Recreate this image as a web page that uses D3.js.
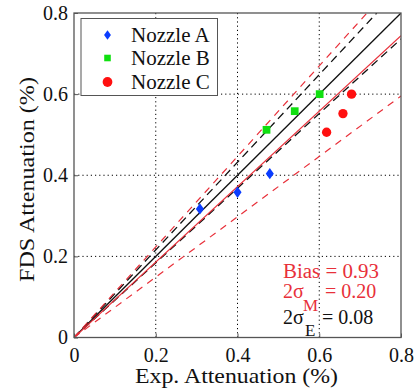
<!DOCTYPE html>
<html><head><meta charset="utf-8">
<script src="https://cdn.jsdelivr.net/npm/d3@7"></script>
<style>body{margin:0;background:#fff}svg{display:block}text{font-family:"Liberation Serif","Times New Roman",serif}</style>
</head><body><svg id="c" width="417" height="389"></svg>
<script>
const seriesNames = ["Nozzle A","Nozzle B","Nozzle C"];
const nozzleA_x = [0.308,0.400,0.479];
const nozzleA_y = [0.317,0.358,0.404];
const nozzleB_x = [0.471,0.540,0.601];
const nozzleB_y = [0.512,0.558,0.600];
const nozzleC_x = [0.618,0.658,0.679];
const nozzleC_y = [0.506,0.552,0.600];
const tickValues = [0,0.2,0.4,0.6,0.8];
const tickLabels = ["0","0.2","0.4","0.6","0.8"];
const bias = 0.93, sigmaM2 = 0.20, sigmaE2 = 0.08;

const svg = d3.select("#c");
const L=74,R=401,T=13,B=337.5;
const x = d3.scaleLinear().domain([0,0.8]).range([L,R]);
const y = d3.scaleLinear().domain([0,0.8]).range([B,T]);

// grid
const g = svg.append("g");
[0.2,0.4,0.6].forEach(v=>{
  g.append("line").attr("x1",x(v)).attr("x2",x(v)).attr("y1",T).attr("y2",B)
   .attr("stroke","#000").attr("stroke-width",1).attr("stroke-dasharray","1.2,3");
  g.append("line").attr("y1",y(v)).attr("y2",y(v)).attr("x1",L).attr("x2",R)
   .attr("stroke","#000").attr("stroke-width",1).attr("stroke-dasharray","1.2,3");
});

svg.append("clipPath").attr("id","clip").append("rect").attr("x",L).attr("y",T).attr("width",R-L).attr("height",B-T);
const lines = svg.append("g").attr("clip-path","url(#clip)");
function refLine(slope,color,dash,w){
  const xe = Math.min(0.8, 0.8/slope);
  lines.append("line").attr("x1",x(0)).attr("y1",y(0)).attr("x2",x(xe)).attr("y2",y(slope*xe))
   .attr("stroke",color).attr("stroke-width",w||1.2).attr("stroke-dasharray",dash||null);
}
refLine(1,"#111",null,1.3);
refLine(1+sigmaE2,"#111","8,5",1.3);
refLine(1-sigmaE2,"#111","8,5",1.3);
refLine(bias,"#e8303a");
refLine(bias*(1+sigmaM2),"#e8303a","7,6");
refLine(bias*(1-sigmaM2),"#e8303a","7,6");

// frame
svg.append("rect").attr("x",L).attr("y",T).attr("width",R-L).attr("height",B-T)
  .attr("fill","none").attr("stroke","#555").attr("stroke-width",1.3);

// axes
const fs = 20;
const xa = svg.append("g").attr("transform",`translate(0,${B})`)
  .call(d3.axisBottom(x).tickValues(tickValues).tickFormat((d,i)=>tickLabels[i]).tickSize(-4).tickPadding(7));
const ya = svg.append("g").attr("transform",`translate(${L},0)`)
  .call(d3.axisLeft(y).tickValues(tickValues).tickFormat((d,i)=>tickLabels[i]).tickSize(-4).tickPadding(6));
[xa,ya].forEach(a=>{a.select(".domain").remove();
  a.selectAll(".tick line").attr("stroke","#555");
  a.selectAll("text").attr("font-size",fs).attr("font-family","Liberation Serif").attr("fill","#111");});
xa.selectAll("text").attr("dy","0.85em");

svg.append("text").attr("x",236.5).attr("y",383).attr("text-anchor","middle")
  .attr("font-size",21).attr("fill","#111")
  .attr("textLength",203).attr("lengthAdjust","spacingAndGlyphs").text("Exp. Attenuation (%)");
svg.append("text").attr("transform",`translate(34,179.5) rotate(-90)`).attr("text-anchor","middle")
  .attr("font-size",21).attr("fill","#111")
  .attr("textLength",205).attr("lengthAdjust","spacingAndGlyphs").text("FDS Attenuation (%)");

// markers
const colors = ["#0a3cff","#10e010","#ff1010"];
const shapes = [d3.symbolDiamond, d3.symbolSquare, d3.symbolCircle];
const sizes = [60, 60, 68];
function diamond(sz){ return `M0,${-sz*0.62}L${sz*0.44},0L0,${sz*0.62}L${-sz*0.44},0Z`; }
function marker(sel,i,cx,cy,scale){
  if(i===0) sel.append("path").attr("d",diamond(9.2*scale)).attr("transform",`translate(${cx},${cy})`).attr("fill",colors[0]);
  else sel.append("path").attr("d",d3.symbol(shapes[i],sizes[i]*scale*scale)()).attr("transform",`translate(${cx},${cy})`).attr("fill",colors[i]);
}
const data = [[nozzleA_x,nozzleA_y],[nozzleB_x,nozzleB_y],[nozzleC_x,nozzleC_y]];
const pts = svg.append("g");
data.forEach((s,i)=>s[0].forEach((v,j)=>marker(pts,i,x(v),y(s[1][j]),1)));

// legend
const lg = svg.append("g");
lg.append("rect").attr("x",81).attr("y",18.5).attr("width",136.5).attr("height",77).attr("fill","#fff").attr("stroke","#555").attr("stroke-width",1);
const rowsY=[35,58,82];
seriesNames.forEach((n,i)=>{
  marker(lg,i,107.5,rowsY[i],i===2?1.05:0.85);
  lg.append("text").attr("x",131).attr("y",rowsY[i]).attr("dy","0.35em").attr("font-size",21).attr("fill","#111").text(n);
});

// annotations
const red="#e8303a";
const ann = svg.append("g").attr("font-size",fs);
ann.append("text").attr("x",283).attr("y",278).attr("fill",red)
  .attr("textLength",96).attr("lengthAdjust","spacingAndGlyphs").text("Bias = 0.93");
const t2 = ann.append("text").attr("fill",red);
t2.append("tspan").attr("x",283).attr("y",298).text("2σ");
t2.append("tspan").attr("x",303).attr("y",311).attr("font-size",17).text("M");
t2.append("tspan").attr("x",325).attr("y",298).text("= 0.20");
const t3 = ann.append("text").attr("fill","#111");
t3.append("tspan").attr("x",283).attr("y",324).text("2σ");
t3.append("tspan").attr("x",305).attr("y",336).attr("font-size",17).text("E");
t3.append("tspan").attr("x",322).attr("y",324).text("= 0.08");
</script></body></html>
